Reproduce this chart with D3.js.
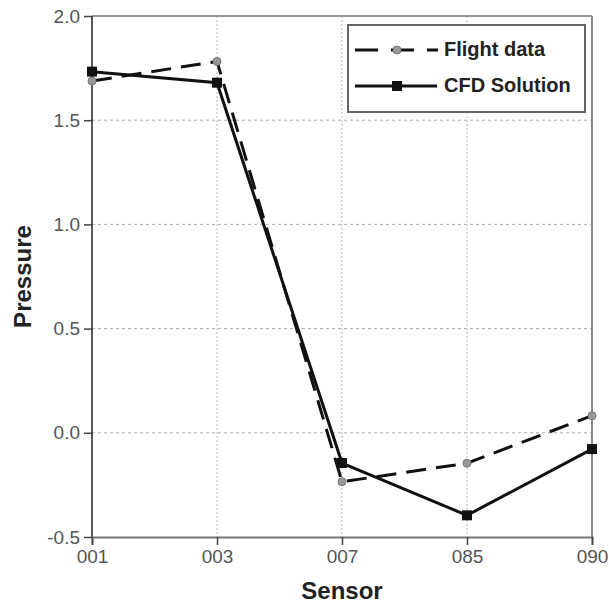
<!DOCTYPE html>
<html><head><meta charset="utf-8">
<script src="https://cdn.jsdelivr.net/npm/d3@7"></script>
<style>body{margin:0;background:#fff}</style>
</head><body><svg id="c" width="609" height="607"></svg>
<script>
const sensors = ["001","003","007","085","090"];
const flightData = [1.688, 1.782, -0.235, -0.146, 0.082];
const cfdSolution = [1.733, 1.680, -0.145, -0.396, -0.078];
const yTicks = [-0.5, 0.0, 0.5, 1.0, 1.5, 2.0];

const FONT = "Liberation Sans, Arial, sans-serif";
const svg = d3.select("#c");
const L = 92, R = 592, T = 16, B = 537;
const x = d3.scalePoint().domain(sensors).range([L, R]);
const y = d3.scaleLinear().domain([-0.5, 2.0]).range([B, T]);

// grid
svg.append("g").selectAll("line").data(yTicks.filter(d => d > -0.5 && d < 2.0)).join("line")
  .attr("x1", L).attr("x2", R).attr("y1", d => y(d)).attr("y2", d => y(d))
  .attr("stroke", "#aaa").attr("stroke-width", 1).attr("stroke-dasharray", "3,3");
svg.append("g").selectAll("line").data(sensors.slice(1, -1)).join("line")
  .attr("x1", d => x(d)).attr("x2", d => x(d)).attr("y1", T).attr("y2", B)
  .attr("stroke", "#bbb").attr("stroke-width", 1).attr("stroke-dasharray", "2,2");

// frame
svg.append("line").attr("x1", L).attr("x2", R).attr("y1", T).attr("y2", T).attr("stroke", "#777").attr("stroke-width", 1.5);
svg.append("line").attr("x1", R).attr("x2", R).attr("y1", T).attr("y2", B).attr("stroke", "#888").attr("stroke-width", 2);

// axes
const fmt = d => d3.format(".1f")(d).replace("−", "-");
const yAxis = svg.append("g").attr("transform", `translate(${L},0)`)
  .call(d3.axisLeft(y).tickValues(yTicks).tickFormat(fmt).tickSize(8).tickPadding(4));
const xAxis = svg.append("g").attr("transform", `translate(0,${B})`)
  .call(d3.axisBottom(x).tickSize(8).tickPadding(5));
yAxis.select(".domain").attr("stroke", "#222").attr("stroke-width", 1.5).attr("d", `M0,${T}V${B}`);
xAxis.select(".domain").attr("stroke", "#777").attr("stroke-width", 2);
[yAxis, xAxis].forEach(a => {
  a.selectAll(".tick line").attr("stroke", "#444").attr("stroke-width", 1.5);
  a.selectAll("text").attr("fill", "#555").attr("font-family", FONT).attr("font-size", 19);
});

// titles
svg.append("text").attr("x", 342).attr("y", 599).attr("text-anchor", "middle")
  .attr("font-family", FONT).attr("font-weight", "bold").attr("font-size", 24).attr("fill", "#222").text("Sensor");
svg.append("text").attr("transform", `translate(31,${(T + B) / 2}) rotate(-90)`).attr("text-anchor", "middle")
  .attr("font-family", FONT).attr("font-weight", "bold").attr("font-size", 24).attr("fill", "#222").text("Pressure");

// lines
const line = d3.line().x((d, i) => x(sensors[i])).y(d => y(d));
svg.append("path").datum(flightData).attr("d", line).attr("fill", "none")
  .attr("stroke", "#111").attr("stroke-width", 3).attr("stroke-dasharray", "20,10");
svg.append("path").datum(cfdSolution).attr("d", line).attr("fill", "none")
  .attr("stroke", "#111").attr("stroke-width", 3);
svg.append("g").selectAll("circle").data(flightData).join("circle")
  .attr("cx", (d, i) => x(sensors[i])).attr("cy", d => y(d)).attr("r", 4)
  .attr("fill", "#999").attr("stroke", "#777").attr("stroke-width", 1);
svg.append("g").selectAll("rect").data(cfdSolution).join("rect")
  .attr("x", (d, i) => x(sensors[i]) - 5).attr("y", d => y(d) - 5).attr("width", 10).attr("height", 10)
  .attr("fill", "#111");

// legend
const lg = svg.append("g");
lg.append("rect").attr("x", 348).attr("y", 25).attr("width", 237).attr("height", 87)
  .attr("fill", "#fff").attr("stroke", "#666").attr("stroke-width", 2);
lg.append("line").attr("x1", 355).attr("x2", 438).attr("y1", 50).attr("y2", 50)
  .attr("stroke", "#111").attr("stroke-width", 3).attr("stroke-dasharray", "23,13");
lg.append("circle").attr("cx", 397).attr("cy", 50).attr("r", 4).attr("fill", "#999").attr("stroke", "#777");
lg.append("line").attr("x1", 355).attr("x2", 437).attr("y1", 86).attr("y2", 86)
  .attr("stroke", "#111").attr("stroke-width", 3);
lg.append("rect").attr("x", 392).attr("y", 81).attr("width", 10).attr("height", 10).attr("fill", "#111");
lg.append("text").attr("x", 444).attr("y", 56).attr("font-family", FONT)
  .attr("font-weight", "bold").attr("font-size", 20).attr("fill", "#222").text("Flight data");
lg.append("text").attr("x", 444).attr("y", 92).attr("font-family", FONT)
  .attr("font-weight", "bold").attr("font-size", 20).attr("fill", "#222").text("CFD Solution");
</script></body></html>
